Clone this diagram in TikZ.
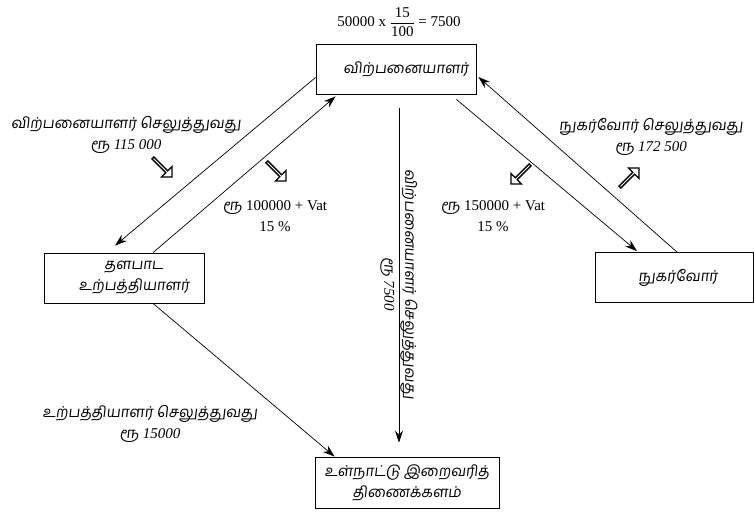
\documentclass[tikz,border=0pt]{standalone}
\usepackage{amsmath}
\usepackage{fontspec}
\setmainfont{Liberation Serif}
\newfontfamily\tamil[Script=Tamil,FakeSlant=0.12]{Hind Madurai}
\usetikzlibrary{arrows.meta,positioning,calc,shapes.arrows}

\begin{document}
\begin{tikzpicture}[x=1pt,y=-1pt,
  box/.style={draw,line width=0.8pt,minimum width=160pt,minimum height=50pt,align=center,inner sep=2pt},
  flow/.style={line width=0.7pt,-{Stealth[length=12pt,width=8pt]}},
  hollow/.style={draw,line width=1.3pt,single arrow,minimum height=27pt,minimum width=15pt,single arrow head extend=3pt,inner sep=0pt},
  lbl/.style={align=center,font=\fontsize{15}{21}\selectfont}]
  \useasboundingbox (0,0) rectangle (754,511);

  % Boxes
  \node[box,lbl] (s) at (396,69) {\hspace*{20pt}\tamil விற்பனையாளர்};
  \node[box,lbl] (p) at (124,278) {\hspace*{20pt}\tamil தளபாட\\\hspace*{20pt}\tamil உற்பத்தியாளர்};
  \node[box,lbl,minimum width=158pt] (c) at (674,277.5) {\hspace*{8pt}\tamil நுகர்வோர்};
  \node[box,lbl,minimum width=184pt,minimum height=51pt] (d) at (407,482.5) {\tamil உள்நாட்டு இறைவரித்\\\tamil திணைக்களம்};

  % Tax formula
  \node[lbl] (f) at (399,22) {50000 x $\dfrac{\text{15}}{\text{100}}$ = 7500};

  % Flows
  \draw[flow] ($(s.south west)+(0,-17)$) -- ($(p.north)+(-9,-7)$);
  \draw[flow] ($(p.north)+(29,0)$) -- ($(s.south west)+(20,2)$);
  \draw[flow] ($(s.south east)+(-20,5)$) -- ($(c.north)+(-37,-1)$);
  \draw[flow] ($(c.north)+(3,0)$) -- ($(s.east)+(2,8)$);
  \draw[flow] ($(s.south)+(3,14)$) -- ($(d.north)+(-8,-14)$);
  \draw[flow] ($(p.south)+(29,0)$) -- ($(d.north west)+(20,0)$);

  % Labels
  \node[lbl] (l1) at (126,135) {\tamil விற்பனையாளர் செலுத்துவது\\{\tamil ரூ} \textit{115 000}};
  \node[lbl] (l2) at (275,216) {{\tamil ரூ} 100000 + Vat\\15 \%};
  \node[lbl] (l3) at (651,137) {\tamil நுகர்வோர் செலுத்துவது\\{\tamil ரூ} \textit{172 500}};
  \node[lbl] (l4) at (493,216) {{\tamil ரூ} 150000 + Vat\\15 \%};
  \node[lbl] (l5) at (150,424) {\tamil உற்பத்தியாளர் செலுத்துவது\\{\tamil ரூ} \textit{15000}};
  \node[lbl,rotate=-90] (l6) at (399,284) {\tamil விற்பனையாளர் செலுத்துவது\\{\tamil ரூ} \textit{7500}};

  % Hollow arrows
  \node[hollow,rotate=-45] (h1) at (162,167) {};
  \node[hollow,rotate=-45] (h2) at (276,171) {};
  \node[hollow,rotate=-135] (h3) at (521,174) {};
  \node[hollow,rotate=45] (h4) at (629,178) {};
\end{tikzpicture}
\end{document}
